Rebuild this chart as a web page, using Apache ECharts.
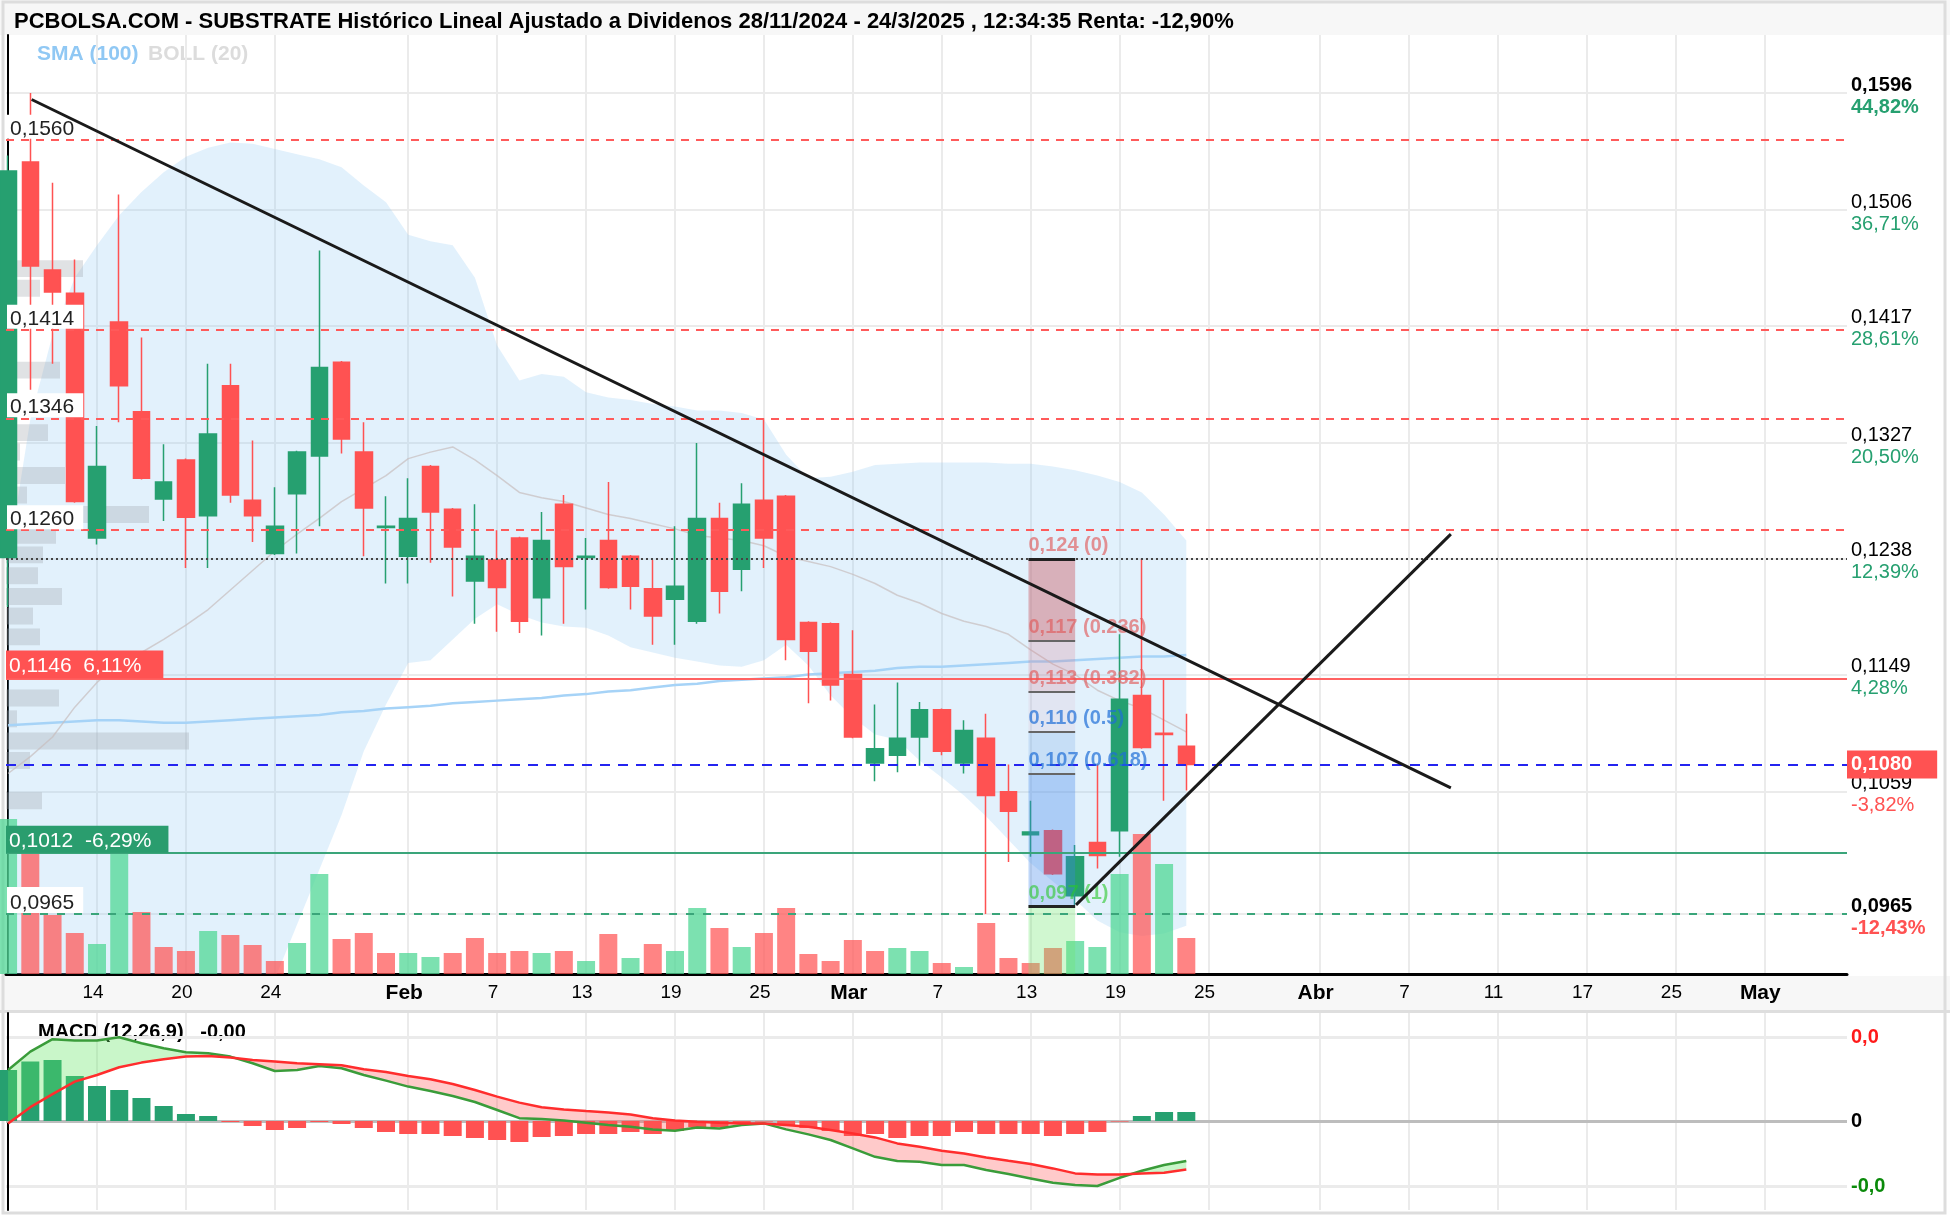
<!DOCTYPE html>
<html>
<head>
<meta charset="utf-8">
<title>SUBSTRATE</title>
<script src="https://cdn.jsdelivr.net/npm/echarts@6.0.0/dist/echarts.min.js"></script>
<style>
  html, body { margin: 0; padding: 0; background: #fff; }
  #main { width: 1950px; height: 1216px; }
</style>
</head>
<body>
<div id="main"></div>
<script>
var FONT = '"Liberation Sans", Arial, Helvetica, sans-serif';

// sesiones del 8 ene al 24 mar 2025 (indice 0..53); el eje sigue con sesiones futuras hasta mayo
var openP = [0.1239, 0.1543, 0.1460, 0.1442, 0.1254, 0.1420, 0.1351, 0.1284, 0.1314, 0.1271,
  0.1371, 0.1283, 0.1242, 0.1288, 0.1317, 0.1389, 0.1320, 0.1262, 0.1240, 0.1309,
  0.1276, 0.1221, 0.1237, 0.1254, 0.1208, 0.1280, 0.1239, 0.1252, 0.1240, 0.1215,
  0.1207, 0.1190, 0.1269, 0.1230, 0.1283, 0.1286, 0.1189, 0.1188, 0.1149, 0.1081,
  0.1087, 0.1101, 0.1122, 0.1081, 0.1100, 0.1059, 0.1026, 0.1029, 0.0979, 0.1020,
  0.1029, 0.1133, 0.1104, 0.1094];
var closeP = [0.1536, 0.1463, 0.1443, 0.1282, 0.1309, 0.1371, 0.1300, 0.1297, 0.1270, 0.1334,
  0.1287, 0.1271, 0.1263, 0.1320, 0.1385, 0.1330, 0.1277, 0.1263, 0.1269, 0.1274,
  0.1247, 0.1240, 0.1216, 0.1190, 0.1252, 0.1232, 0.1240, 0.1216, 0.1217, 0.1194,
  0.1217, 0.1269, 0.1213, 0.1280, 0.1254, 0.1176, 0.1167, 0.1141, 0.1101, 0.1092,
  0.1100, 0.1122, 0.1090, 0.1106, 0.1056, 0.1044, 0.1028, 0.0996, 0.1009, 0.1010,
  0.1130, 0.1093, 0.1103, 0.1080];
var lowP = [0.1201, 0.1368, 0.1388, 0.1281, 0.1249, 0.1343, 0.1299, 0.1267, 0.1231, 0.1231,
  0.1281, 0.1251, 0.1241, 0.1242, 0.1263, 0.1319, 0.1240, 0.1219, 0.1219, 0.1235,
  0.1209, 0.1188, 0.1182, 0.1181, 0.1179, 0.1188, 0.1199, 0.1215, 0.1199, 0.1172,
  0.1172, 0.1188, 0.1196, 0.1213, 0.1231, 0.1160, 0.1127, 0.1129, 0.1100, 0.1067,
  0.1074, 0.1079, 0.1087, 0.1073, 0.0965, 0.1005, 0.1009, 0.0995, 0.0972, 0.1000,
  0.1009, 0.1092, 0.1052, 0.1060];
var highP = [0.1548, 0.1596, 0.1527, 0.1468, 0.1340, 0.1518, 0.1408, 0.1326, 0.1315, 0.1388,
  0.1388, 0.1329, 0.1293, 0.1321, 0.1475, 0.1390, 0.1343, 0.1286, 0.1300, 0.1310,
  0.1277, 0.1280, 0.1260, 0.1255, 0.1274, 0.1287, 0.1254, 0.1297, 0.1241, 0.1237,
  0.1263, 0.1327, 0.1281, 0.1296, 0.1346, 0.1287, 0.1190, 0.1189, 0.1183, 0.1126,
  0.1143, 0.1128, 0.1123, 0.1114, 0.1119, 0.1080, 0.1052, 0.1030, 0.1018, 0.1080,
  0.1180, 0.1238, 0.1146, 0.1119];
var volume = [1550000, 1220000, 590000, 410000, 300000, 1240000, 620000, 270000, 230000, 430000,
  390000, 290000, 130000, 310000, 1000000, 350000, 410000, 210000, 210000, 170000,
  210000, 360000, 210000, 230000, 210000, 230000, 130000, 400000, 160000, 300000,
  230000, 660000, 460000, 270000, 410000, 660000, 200000, 130000, 340000, 230000,
  260000, 230000, 110000, 70000, 510000, 160000, 110000, 260000, 330000, 270000,
  1000000, 1400000, 1100000, 360000];

var sma100 = [0.1110, 0.1111, 0.1112, 0.1113, 0.1114, 0.1114, 0.1113, 0.1112, 0.1112, 0.1113,
  0.1114, 0.1115, 0.1116, 0.1117, 0.1118, 0.1120, 0.1121, 0.1123, 0.1124, 0.1125,
  0.1127, 0.1128, 0.1129, 0.1130, 0.1131, 0.1133, 0.1134, 0.1136, 0.1137, 0.1139,
  0.1141, 0.1142, 0.1144, 0.1145, 0.1146, 0.1147, 0.1149, 0.1150, 0.1151, 0.1152,
  0.1154, 0.1155, 0.1155, 0.1156, 0.1157, 0.1158, 0.1159, 0.1159, 0.1160, 0.1161,
  0.1162, 0.1163, 0.1163, 0.1164];
var bollMid = [0.1073, 0.1086, 0.1101, 0.1124, 0.1143, 0.1158, 0.1166, 0.1176, 0.1187, 0.1199,
  0.1214, 0.1229, 0.1244, 0.1257, 0.1269, 0.1282, 0.1292, 0.1302, 0.1315, 0.1320,
  0.1324, 0.1314, 0.1302, 0.1289, 0.1285, 0.1282, 0.1277, 0.1272, 0.1269, 0.1265,
  0.1261, 0.1256, 0.1254, 0.1252, 0.1248, 0.1240, 0.1236, 0.1232, 0.1226, 0.1219,
  0.1210, 0.1204, 0.1196, 0.1190, 0.1186, 0.1180, 0.1168, 0.1157, 0.1149, 0.1137,
  0.1129, 0.1123, 0.1114, 0.1105];
var bollUp = [0.1237, 0.1345, 0.1410, 0.1454, 0.1479, 0.1502, 0.1520, 0.1535, 0.1547, 0.1554,
  0.1558, 0.1557, 0.1553, 0.1549, 0.1545, 0.1539, 0.1525, 0.1512, 0.1487, 0.1482,
  0.1479, 0.1454, 0.1402, 0.1375, 0.1380, 0.1378, 0.1366, 0.1362, 0.1360, 0.1357,
  0.1355, 0.1352, 0.1352, 0.1350, 0.1345, 0.1318, 0.1300, 0.1301, 0.1305, 0.1310,
  0.1311, 0.1312, 0.1312, 0.1312, 0.1312, 0.1311, 0.1311, 0.1309, 0.1306, 0.1302,
  0.1297, 0.1289, 0.1272, 0.1252];
var bollLow = [0.0909, 0.0827, 0.0792, 0.0794, 0.0807, 0.0814, 0.0812, 0.0817, 0.0827, 0.0844,
  0.0870, 0.0901, 0.0915, 0.0957, 0.0999, 0.1041, 0.1090, 0.1126, 0.1158, 0.1160,
  0.1176, 0.1192, 0.1203, 0.1195, 0.1189, 0.1186, 0.1185, 0.1179, 0.1170, 0.1166,
  0.1162, 0.1159, 0.1156, 0.1155, 0.1160, 0.1172, 0.1156, 0.1133, 0.1116, 0.1103,
  0.1099, 0.1083, 0.1070, 0.1056, 0.1040, 0.1022, 0.1004, 0.0990, 0.0976, 0.0960,
  0.0951, 0.0948, 0.0950, 0.0956];

var macdLine = [0.00255, 0.00347, 0.00409, 0.00402, 0.00402, 0.00419, 0.00389, 0.00364, 0.00344, 0.00339,
  0.00322, 0.00289, 0.00250, 0.00255, 0.00275, 0.00264, 0.00230, 0.00202, 0.00172, 0.00150,
  0.00125, 0.00095, 0.00055, 0.00014, 0.00010, 0.00002, -0.00009, -0.00020, -0.00029, -0.00042,
  -0.00049, -0.00032, -0.00037, -0.00020, -0.00012, -0.00042, -0.00067, -0.00095, -0.00137, -0.00179,
  -0.00200, -0.00204, -0.00220, -0.00220, -0.00245, -0.00265, -0.00287, -0.00309, -0.00320, -0.00325,
  -0.00284, -0.00249, -0.00220, -0.00200];
var macdSignal = [-0.00012, 0.00069, 0.00134, 0.00197, 0.00230, 0.00269, 0.00292, 0.00309, 0.00322, 0.00325,
  0.00317, 0.00305, 0.00297, 0.00289, 0.00284, 0.00279, 0.00259, 0.00245, 0.00225, 0.00209,
  0.00185, 0.00155, 0.00122, 0.00092, 0.00069, 0.00058, 0.00050, 0.00043, 0.00033, 0.00014,
  0.00002, -0.00004, -0.00009, -0.00012, -0.00012, -0.00020, -0.00029, -0.00045, -0.00062, -0.00082,
  -0.00112, -0.00129, -0.00149, -0.00162, -0.00182, -0.00199, -0.00215, -0.00237, -0.00262, -0.00267,
  -0.00267, -0.00262, -0.00259, -0.00242];
var macdHist = [0.00255, 0.00297, 0.00305, 0.00225, 0.00175, 0.00155, 0.00115, 0.00075, 0.00035, 0.00025,
  -0.00005, -0.00025, -0.00045, -0.00035, -0.00005, -0.00015, -0.00035, -0.00055, -0.00065, -0.00065,
  -0.00075, -0.00085, -0.00095, -0.00105, -0.00080, -0.00075, -0.00065, -0.00065, -0.00055, -0.00065,
  -0.00050, -0.00030, -0.00030, -0.00015, -0.00003, -0.00020, -0.00035, -0.00050, -0.00075, -0.00065,
  -0.00085, -0.00075, -0.00075, -0.00055, -0.00065, -0.00065, -0.00065, -0.00075, -0.00065, -0.00055,
  -0.00003, 0.00025, 0.00045, 0.00045];

// volumen por precio (perfil a la izquierda)
var vpPrice = [0.1461, 0.1446, 0.1383, 0.1335, 0.1320, 0.1302, 0.1287, 0.1272, 0.1256, 0.1241,
  0.1225, 0.1209, 0.1194, 0.1178, 0.1131, 0.1115, 0.1098, 0.1083, 0.1052];
var vpVolume = [77000, 34000, 54000, 42000, 14000, 59000, 21000, 143000, 50000, 37000,
  32000, 56000, 27000, 34000, 53000, 11000, 183000, 24000, 36000];

var xTickIdx = [4, 8, 12, 18, 22, 26, 30, 34, 38, 42, 46, 50, 54, 59, 63, 67, 71, 75, 79];
var xTickText = ['14', '20', '24', 'Feb', '7', '13', '19', '25', 'Mar', '7', '13', '19', '25', 'Abr', '7', '11', '17', '25', 'May'];
var priceTicks = [0.0965, 0.1059, 0.1149, 0.1238, 0.1327, 0.1417, 0.1506, 0.1596];
var priceTickPct = ['-12,43%', '-3,82%', '4,28%', '12,39%', '20,50%', '28,61%', '36,71%', '44,82%'];
var macdTicks = [-0.00325, 0, 0.00419];
var macdTickText = ['-0,0', '0', '0,0'];

var resistLevels = [0.1560, 0.1414, 0.1346, 0.1260];
var supportLevel = 0.0965;
var dottedLevel = 0.1238;
var lastPrice = 0.1080;
var redLevel = 0.1146, redLevelPct = '6,11%';
var greenLevel = 0.1012, greenLevelPct = '-6,29%';

var fibLevels = [0.1238, 0.1175, 0.1136, 0.1105, 0.1073, 0.0971];
var fibText = ['0,124 (0)', '0,117 (0.236)', '0,113 (0.382)', '0,110 (0.5)', '0,107 (0.618)', '0,097 (1)'];
var fibX = [45.9, 48];
var trend1 = [[1.06, 0.1591], [64.9, 0.1062]];
var trend2 = [[48.04, 0.0972], [64.9, 0.1257]];

var priceMin = 0.091889, priceMax = 0.164058;
var xMin = -0.0936, xMax = 82.72;

function fmt(v, d) { return v.toFixed(d).replace('.', ','); }
function xy(arr) { return arr.map(function (v, i) { return [i, v]; }); }
function findTick(list, v) {
  for (var k = 0; k < list.length; k++) { if (Math.abs(list[k] - v) < 1e-9) return k; }
  return -1;
}
function clipTo(cs) {
  return { type: 'rect', shape: { x: cs.x, y: cs.y, width: cs.width, height: cs.height } };
}

var candleData = openP.map(function (o, i) { return [i, o, closeP[i], lowP[i], highP[i]]; });
var volData = volume.map(function (v, i) {
  var up = i === 0 || closeP[i] >= closeP[i - 1];
  return { value: [i, v], itemStyle: { color: up ? 'rgba(80,215,150,0.75)' : 'rgba(255,85,85,0.72)' } };
});
var histData = macdHist.map(function (h, i) {
  return { value: [i, h], itemStyle: { color: h >= 0 ? '#26a070' : '#ff5252' } };
});
var vpData = vpPrice.map(function (p, i) { return [vpVolume[i], p]; });

var hLines = [];
resistLevels.forEach(function (p) {
  hLines.push({
    yAxis: p,
    lineStyle: { color: '#ff5a5a', type: [8, 7], width: 2 },
    label: { show: true, position: 'insideStartTop', formatter: fmt(p, 4), color: '#222', fontSize: 21,
      fontFamily: FONT, backgroundColor: '#fff', padding: [4, 9, 0, 3], lineHeight: 20, distance: [1, 1] }
  });
});
hLines.push({ yAxis: dottedLevel, lineStyle: { color: '#444', type: [2, 3], width: 2 }, label: { show: false } });
hLines.push({
  yAxis: redLevel,
  lineStyle: { color: '#ff6262', type: 'solid', width: 2 },
  label: { show: true, position: 'insideStartTop', formatter: fmt(redLevel, 4) + '  ' + redLevelPct, color: '#fff',
    fontSize: 21, fontFamily: FONT, backgroundColor: '#ff5252', padding: [5, 22, 1, 3], lineHeight: 22, distance: [0, 0] }
});
hLines.push({
  yAxis: greenLevel,
  lineStyle: { color: '#3aa57a', type: 'solid', width: 2 },
  label: { show: true, position: 'insideStartTop', formatter: fmt(greenLevel, 4) + '  ' + greenLevelPct, color: '#fff',
    fontSize: 21, fontFamily: FONT, backgroundColor: '#2a9d6e', padding: [4, 17, 1, 3], lineHeight: 22, distance: [0, 0] }
});
hLines.push({
  yAxis: supportLevel,
  lineStyle: { color: '#3aa57a', type: [8, 9], width: 2 },
  label: { show: true, position: 'insideStartTop', formatter: fmt(supportLevel, 4), color: '#222', fontSize: 21,
    fontFamily: FONT, backgroundColor: '#fff', padding: [6, 9, 0, 3], lineHeight: 20, distance: [1, 1] }
});
hLines.push({
  yAxis: lastPrice,
  lineStyle: { color: '#2424f0', type: [10, 8], width: 2 },
  label: { show: true, position: 'end', formatter: fmt(lastPrice, 4), color: '#fff', fontSize: 20, fontWeight: 'bold',
    fontFamily: FONT, backgroundColor: '#ff5252', padding: [4, 25, 4, 4], lineHeight: 20, distance: 0 }
});

var fibZoneColors = ['rgba(200,70,80,0.38)', 'rgba(215,100,120,0.2)', 'rgba(220,160,190,0.15)',
  'rgba(90,150,225,0.2)', 'rgba(60,130,235,0.33)'];
var fibLabelColors = ['rgba(225,90,90,0.65)', 'rgba(225,90,90,0.65)', 'rgba(225,90,90,0.65)',
  'rgba(30,110,215,0.7)', 'rgba(30,110,215,0.7)', 'rgba(40,200,40,0.6)'];
var fibAreas = [];
for (var f = 0; f < fibLevels.length - 1; f++) {
  fibAreas.push([{ coord: [fibX[0], fibLevels[f]], itemStyle: { color: fibZoneColors[f] } },
    { coord: [fibX[1], fibLevels[f + 1]] }]);
}
fibAreas.push([{ coord: [fibX[0], fibLevels[fibLevels.length - 1]], itemStyle: { color: 'rgba(110,230,110,0.32)' } },
  { coord: [fibX[1], priceMin] }]);
var fibLines = fibLevels.map(function (p, k) {
  var edge = k === 0 || k === fibLevels.length - 1;
  return [{
    coord: [fibX[0], p],
    lineStyle: { color: edge ? '#222' : '#666', width: edge ? 3 : 2, type: 'solid' },
    label: { show: true, position: 'insideStartTop', formatter: fibText[k], color: fibLabelColors[k],
      fontSize: 20, fontWeight: 'bold', fontFamily: FONT, distance: [0, 3] }
  }, { coord: [fibX[1], p] }];
});

// banda de Bollinger: un solo poligono entre banda superior e inferior
function renderBand(params, api) {
  var pts = [];
  for (var i = 0; i < bollUp.length; i++) pts.push(api.coord([i, bollUp[i]]));
  for (var j = bollLow.length - 1; j >= 0; j--) pts.push(api.coord([j, bollLow[j]]));
  return {
    type: 'polygon', shape: { points: pts }, style: { fill: 'rgba(150,205,245,0.28)' },
    clipPath: clipTo(params.coordSys)
  };
}

// relleno MACD / senal: verde si MACD > senal, rojo si no (cortando en los cruces)
function renderMacdFill(params, api) {
  var children = [];
  var top = [], bot = [], prev = null;
  function push(sign) {
    if (top.length < 2) return;
    children.push({
      type: 'polygon', shape: { points: top.concat(bot.slice().reverse()) },
      style: { fill: sign ? 'rgba(100,230,100,0.35)' : 'rgba(255,80,80,0.3)' }
    });
  }
  for (var i = 0; i < macdLine.length; i++) {
    var a = api.coord([i, macdLine[i]]);
    var b = api.coord([i, macdSignal[i]]);
    var d = macdLine[i] - macdSignal[i];
    var s = d >= 0;
    if (prev !== null && s !== prev) {
      var d0 = macdLine[i - 1] - macdSignal[i - 1];
      var t = d0 / (d0 - d);
      var pa = api.coord([i - 1, macdLine[i - 1]]);
      var cx = pa[0] + t * (a[0] - pa[0]);
      var cy = pa[1] + t * (a[1] - pa[1]);
      top.push([cx, cy]); bot.push([cx, cy]);
      push(prev);
      top = [[cx, cy]]; bot = [[cx, cy]];
    }
    top.push(a); bot.push(b);
    prev = s;
  }
  push(prev);
  return { type: 'group', children: children, clipPath: clipTo(params.coordSys) };
}

var axisRich = {
  b: { fontFamily: FONT, fontSize: 20, fontWeight: 'bold', color: '#000', lineHeight: 22 },
  n: { fontFamily: FONT, fontSize: 20, color: '#000', lineHeight: 22 },
  g: { fontFamily: FONT, fontSize: 20, color: '#26a070', lineHeight: 22 },
  gb: { fontFamily: FONT, fontSize: 20, fontWeight: 'bold', color: '#26a070', lineHeight: 22 },
  r: { fontFamily: FONT, fontSize: 20, color: '#ff5252', lineHeight: 22 },
  rb: { fontFamily: FONT, fontSize: 20, fontWeight: 'bold', color: '#ff5252', lineHeight: 22 }
};

var chartDom = document.getElementById('main');
var myChart = echarts.init(chartDom);
var option;
option = {
  animation: false,
  backgroundColor: '#fff',
  textStyle: { fontFamily: FONT },
  title: {
    text: 'PCBOLSA.COM - SUBSTRATE Histórico Lineal Ajustado a Dividenos 28/11/2024 - 24/3/2025 , 12:34:35 Renta: -12,90%',
    left: 9, top: 6,
    textStyle: { fontSize: 22, fontWeight: 'bold', color: '#000', fontFamily: FONT }
  },
  graphic: [
    { type: 'rect', z: -10, shape: { x: 0, y: 0, width: 1950, height: 35 }, style: { fill: '#f7f7f7' } },
    { type: 'rect', z: -10, shape: { x: 0, y: 976, width: 1950, height: 34 }, style: { fill: '#f7f7f7' } },
    { type: 'rect', z: -10, shape: { x: 0, y: 1010, width: 1950, height: 3 }, style: { fill: '#dedede' } },
    { type: 'rect', z: -10, shape: { x: 3, y: 2, width: 1942, height: 1211 }, style: { fill: 'none', stroke: '#dddddd', lineWidth: 3 } },
    { type: 'text', left: 37, top: 44, style: { text: 'SMA (100)', fill: '#90c8f4', font: 'bold 21px ' + FONT } },
    { type: 'text', left: 148, top: 44, style: { text: 'BOLL (20)', fill: '#dcdcdc', font: 'bold 21px ' + FONT } },
    { type: 'text', left: 38, top: 1022, style: { text: 'MACD (12,26,9)   -0,00', fill: '#000', font: 'bold 20px ' + FONT } }
  ],
  grid: [
    { left: 6, right: 103, top: 35, height: 939 },
    { left: 6, right: 103, top: 1013, height: 197 }
  ],
  xAxis: [
    {
      type: 'value', gridIndex: 0, min: xMin, max: xMax,
      axisLine: { show: true, onZero: false, lineStyle: { color: '#000', width: 3 } },
      axisTick: { show: false, customValues: xTickIdx },
      splitLine: { show: true, lineStyle: { color: '#ebebeb', width: 2 } },
      axisLabel: {
        customValues: xTickIdx, margin: 9, color: '#000', fontSize: 19, fontFamily: FONT, padding: [0, 8, 0, 0],
        formatter: function (v) {
          var t = xTickText[findTick(xTickIdx, v)];
          return /^[A-Z]/.test(t) ? '{m|' + t + '}' : t;
        },
        rich: { m: { fontSize: 21, fontWeight: 'bold', color: '#000', fontFamily: FONT } }
      }
    },
    {
      type: 'value', gridIndex: 1, min: xMin, max: xMax,
      axisLine: { show: false }, axisLabel: { show: false },
      axisTick: { show: false, customValues: xTickIdx },
      splitLine: { show: true, lineStyle: { color: '#ebebeb', width: 2 } }
    },
    { type: 'value', gridIndex: 0, min: 0, max: 1841000, show: false }
  ],
  yAxis: [
    {
      type: 'value', gridIndex: 0, position: 'right', min: priceMin, max: priceMax,
      axisLine: { show: true, lineStyle: { color: '#000', width: 2 } },
      axisTick: { show: false, customValues: priceTicks },
      splitLine: { show: true, lineStyle: { color: '#ebebeb', width: 2 } },
      axisLabel: {
        customValues: priceTicks, margin: 4, align: 'left', padding: [6, 0, 0, 0],
        formatter: function (v) {
          var k = findTick(priceTicks, v);
          var bold = k === 0 || k === priceTicks.length - 1;
          var neg = priceTickPct[k].charAt(0) === '-';
          return '{' + (bold ? 'b' : 'n') + '|' + fmt(priceTicks[k], 4) + '}\n{' +
            (neg ? 'r' : 'g') + (bold ? 'b' : '') + '|' + priceTickPct[k] + '}';
        },
        rich: axisRich
      }
    },
    { type: 'value', gridIndex: 0, min: 0, max: 9390000, show: false },
    {
      type: 'value', gridIndex: 1, position: 'right', min: -0.00445, max: 0.0054,
      axisLine: { show: true, lineStyle: { color: '#000', width: 2 } },
      axisTick: { show: false, customValues: macdTicks },
      splitLine: { show: true, lineStyle: { color: '#ebebeb', width: 3 } },
      axisLabel: {
        customValues: macdTicks, margin: 4,
        formatter: function (v) {
          var k = findTick(macdTicks, v);
          var s = k === 0 ? 'g' : (k === 1 ? 'k' : 'r');
          return '{' + s + '|' + macdTickText[k] + '}';
        },
        rich: {
          g: { color: '#0a8a0a', fontSize: 20, fontWeight: 'bold', fontFamily: FONT },
          k: { color: '#000', fontSize: 20, fontWeight: 'bold', fontFamily: FONT },
          r: { color: '#ff1a1a', fontSize: 20, fontWeight: 'bold', fontFamily: FONT }
        }
      }
    }
  ],
  series: [
    {
      name: 'BOLL banda', type: 'custom', xAxisIndex: 0, yAxisIndex: 0, z: 1, silent: true,
      encode: { x: 0, y: 1 }, data: [[0, bollMid[0]]], renderItem: renderBand
    },
    {
      name: 'perfil', type: 'custom', xAxisIndex: 2, yAxisIndex: 0, z: 2, silent: true,
      encode: { x: 0, y: 1 },
      data: vpData,
      renderItem: function (params, api) {
        var a = api.coord([0, api.value(1) + 0.00065]);
        var b = api.coord([api.value(0), api.value(1) - 0.00065]);
        return { type: 'rect', shape: { x: a[0], y: a[1], width: b[0] - a[0], height: b[1] - a[1] },
          style: { fill: 'rgba(160,165,170,0.32)' } };
      }
    },
    {
      name: 'Volumen', type: 'bar', xAxisIndex: 0, yAxisIndex: 1, z: 2, barWidth: 18, silent: true,
      data: volData
    },
    {
      name: 'SMA (100)', type: 'line', xAxisIndex: 0, yAxisIndex: 0, z: 3, data: xy(sma100),
      showSymbol: false, silent: true, lineStyle: { color: '#a6d3f7', width: 2.5 }
    },
    {
      name: 'BOLL (20)', type: 'line', xAxisIndex: 0, yAxisIndex: 0, z: 3, data: xy(bollMid),
      showSymbol: false, silent: true, lineStyle: { color: 'rgba(200,190,190,0.7)', width: 1.5 }
    },
    {
      name: 'SUBSTRATE', type: 'candlestick', xAxisIndex: 0, yAxisIndex: 0, z: 4,
      encode: { x: 0, y: [1, 2, 3, 4] },
      data: candleData, barWidth: 17,
      itemStyle: { color: '#26a070', color0: '#ff5252', borderColor: '#26a070', borderColor0: '#ff5252', borderWidth: 1.5 }
    },
    {
      name: 'niveles', type: 'line', xAxisIndex: 0, yAxisIndex: 0, data: [],
      markLine: { silent: true, precision: 6, symbol: ['none', 'none'], z: 7, animation: false, data: hLines }
    },
    {
      name: 'fibo', type: 'line', xAxisIndex: 0, yAxisIndex: 0, data: [],
      markArea: { silent: true, z: 6, animation: false, data: fibAreas },
      markLine: { silent: true, precision: 6, symbol: ['none', 'none'], z: 8, animation: false, data: fibLines }
    },
    {
      name: 'tendencia', type: 'line', xAxisIndex: 0, yAxisIndex: 0, data: [],
      markLine: {
        silent: true, precision: 6, symbol: ['none', 'none'], z: 9, animation: false,
        lineStyle: { color: '#1a1a1a', width: 3, type: 'solid' }, label: { show: false },
        data: [
          [{ coord: trend1[0] }, { coord: trend1[1] }],
          [{ coord: trend2[0] }, { coord: trend2[1] }]
        ]
      }
    },
    {
      name: 'Histograma', type: 'bar', xAxisIndex: 1, yAxisIndex: 2, z: 2, barWidth: 18, silent: true,
      data: histData,
      markLine: {
        silent: true, precision: 6, symbol: ['none', 'none'], z: 1, animation: false, label: { show: false },
        data: [{ yAxis: 0, lineStyle: { color: '#bdbdbd', width: 3, type: 'solid' } }]
      }
    },
    {
      name: 'relleno', type: 'custom', xAxisIndex: 1, yAxisIndex: 2, z: 3, silent: true,
      encode: { x: 0, y: 1 }, data: [[0, 0]], renderItem: renderMacdFill
    },
    {
      name: 'MACD', type: 'line', xAxisIndex: 1, yAxisIndex: 2, z: 4, data: xy(macdLine),
      showSymbol: false, silent: true, lineStyle: { color: '#3a9c3a', width: 2.5 }
    },
    {
      name: 'Señal', type: 'line', xAxisIndex: 1, yAxisIndex: 2, z: 4, data: xy(macdSignal),
      showSymbol: false, silent: true, lineStyle: { color: '#ff2d2d', width: 2.5 }
    }
  ]
};

option && myChart.setOption(option);
</script>
</body>
</html>
